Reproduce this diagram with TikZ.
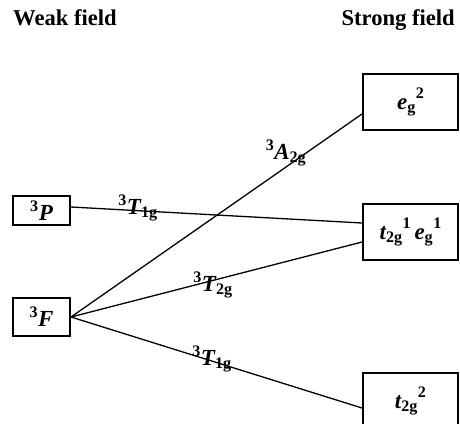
\documentclass[tikz,border=0pt]{standalone}
\usepackage{fontspec}
\usepackage{amsmath}
\setmainfont{Liberation Serif}
\newcommand{\hsup}[1]{\raisebox{11pt}{$\scriptstyle\text{\bfseries #1}$}}
\begin{document}
\begin{tikzpicture}[x=1pt,y=-1pt,
  lvl/.style={draw, line width=2pt, inner sep=0pt, font=\fontsize{23}{27}\selectfont\bfseries},
  ln/.style={line width=1.3pt},
  lab/.style={inner sep=0pt, font=\fontsize{23}{27}\selectfont\bfseries},
  hdr/.style={inner sep=0pt, font=\fontsize{22.6}{27}\selectfont\bfseries}]
\useasboundingbox (0,0) rectangle (460,423);
\clip (0,0) rectangle (460,423);
% headers
\node[hdr, anchor=base west] (wf) at (13,25) {Weak field};
\node[hdr, anchor=base east] (sf) at (455,25) {Strong field};
% weak-field terms
\node[lvl, minimum width=57pt, minimum height=29pt] (P) at (41.5,210.5) {$^{\text{\bfseries 3}}\textit{P}$};
\node[lvl, minimum width=57pt, minimum height=38pt] (F) at (41.5,317) {$^{\text{\bfseries 3}}\textit{F}$};
% strong-field configurations
\node[lvl, minimum width=95pt, minimum height=56pt] (E2) at (410.5,102) {$\textit{e}_{\text{\bfseries g}}$\hsup{2}};
\node[lvl, minimum width=95pt, minimum height=56pt] (TE) at (410.5,232) {$\textit{t}_{\text{\bfseries 2g}}$\hsup{1}\,$\textit{e}_{\text{\bfseries g}}$\hsup{1}};
\node[lvl, minimum width=95pt, minimum height=56pt] (T2) at (410.5,401) {$\textit{t}_{\text{\bfseries 2g}}$\hsup{2}};
% correlation lines
\draw[ln] ([yshift=3.5pt]P.east) -- ([yshift=9pt]TE.west);
\draw[ln] (F.east) -- ([yshift=-12pt]E2.west);
\draw[ln] (F.east) -- ([yshift=-10pt]TE.west);
\draw[ln] (F.east) -- ([yshift=-7pt]T2.west);
% labels
\node[lab] (l1) at (138,208) {$^{\text{\bfseries 3}}\textit{T}_{\text{\bfseries 1g}}$};
\node[lab] (l2) at (286,153) {$^{\text{\bfseries 3}}\textit{A}_{\text{\bfseries 2g}}$};
\node[lab] (l3) at (213,285) {$^{\text{\bfseries 3}}\textit{T}_{\text{\bfseries 2g}}$};
\node[lab] (l4) at (212,359) {$^{\text{\bfseries 3}}\textit{T}_{\text{\bfseries 1g}}$};
\end{tikzpicture}
\end{document}
